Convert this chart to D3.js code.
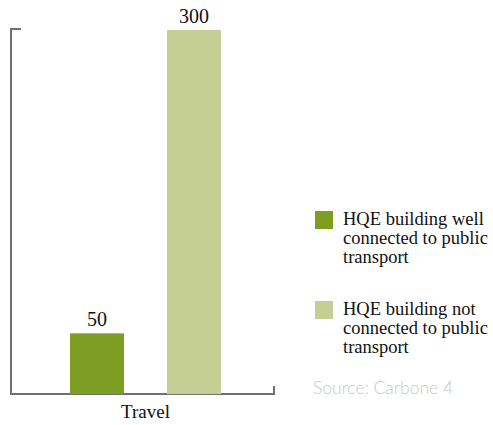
<!DOCTYPE html>
<html>
<head>
<meta charset="utf-8">
<script src="https://cdn.jsdelivr.net/npm/d3@7"></script>
<style>
  body { margin: 0; background: #fff; }
  text { font-family: "Liberation Serif", "DejaVu Serif", serif; }
</style>
</head>
<body>
<div id="chart"></div>
<script>
var categories = ["Travel"];
var seriesNames = [
  ["HQE building well", "connected to public", "transport"],
  ["HQE building not", "connected to public", "transport"]
];
var seriesValues = [50, 300];
var colors = ["#7d9d23", "#c5ce94"];
var source = "Source: Carbone 4";

var width = 493, height = 425;

var svg = d3.select("#chart")
  .append("svg")
  .attr("width", width)
  .attr("height", height);

var plotLeft = 11, plotRight = 274, plotTop = 30, plotBottom = 394;

var y = d3.scaleLinear().domain([0, 300]).range([plotBottom, plotTop]);

var x0 = d3.scaleBand().domain(categories).range([plotLeft, plotRight]);
var x1 = d3.scaleBand().domain(d3.range(seriesValues.length))
  .range([70, 221]).paddingInner(43 / 97).paddingOuter(0);

// frame
var axisColor = "#707070";
svg.append("path")
  .attr("d", "M" + (plotLeft + 10) + "," + (plotTop - 1) + "H" + plotLeft + "V" + plotBottom + "H" + plotRight + "V" + (plotBottom - 8))
  .attr("fill", "none")
  .attr("stroke", axisColor)
  .attr("stroke-width", 2);

svg.selectAll("rect.bar")
  .data(seriesValues)
  .enter().append("rect")
  .attr("class", "bar")
  .attr("x", function(d, i) { return x1(i); })
  .attr("width", x1.bandwidth())
  .attr("y", function(d) { return y(d); })
  .attr("height", function(d) { return plotBottom - y(d); })
  .attr("fill", function(d, i) { return colors[i]; });

svg.selectAll("text.val")
  .data(seriesValues)
  .enter().append("text")
  .attr("class", "val")
  .attr("x", function(d, i) { return x1(i) + x1.bandwidth() / 2; })
  .attr("y", function(d) { return y(d) - 7; })
  .attr("text-anchor", "middle")
  .attr("font-size", 20)
  .attr("fill", "#111")
  .text(function(d) { return d; });

svg.append("text")
  .attr("x", x0("Travel") + x0.bandwidth() / 2 + 3)
  .attr("y", 418)
  .attr("text-anchor", "middle")
  .attr("font-size", 19)
  .attr("fill", "#111")
  .text(categories[0]);

// legend
var legend = svg.selectAll("g.leg")
  .data(seriesNames)
  .enter().append("g")
  .attr("class", "leg")
  .attr("transform", function(d, i) { return "translate(315," + (211 + i * 90) + ")"; });

legend.append("rect")
  .attr("width", 18).attr("height", 18)
  .attr("fill", function(d, i) { return colors[i]; });

legend.each(function(lines) {
  var t = d3.select(this).append("text")
    .attr("font-size", 18.5)
    .attr("fill", "#111");
  lines.forEach(function(l, j) {
    t.append("tspan").attr("x", 28).attr("y", 14 + j * 19).text(l);
  });
});

svg.append("text")
  .attr("x", 313)
  .attr("y", 394)
  .attr("font-weight", 300)
  .attr("font-size", 17.5)
  .attr("fill", "#c8c8c8")
  .attr("style", "font-family: Lato, 'Open Sans', sans-serif")
  .text(source);
</script>
</body>
</html>
